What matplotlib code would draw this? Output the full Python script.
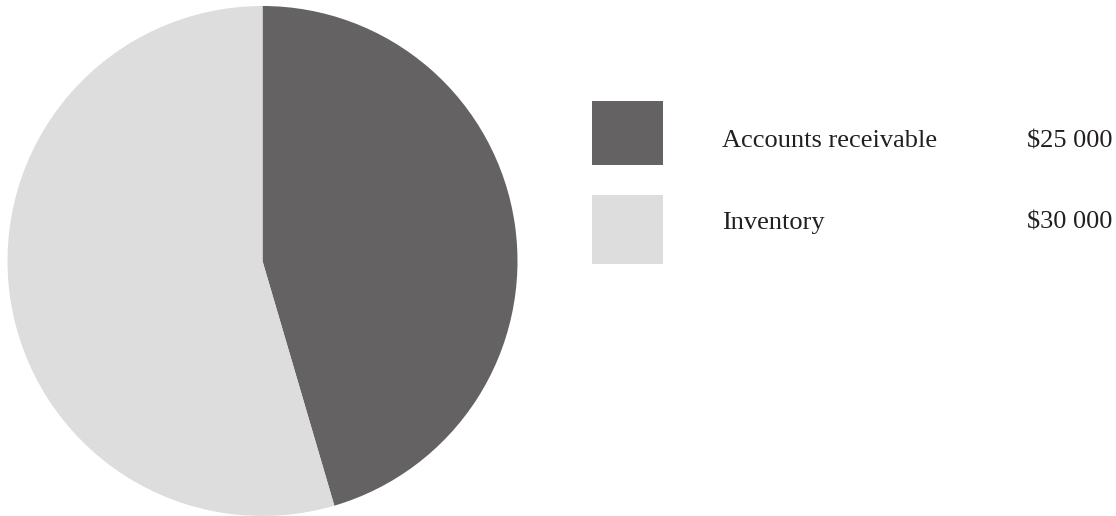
import matplotlib
matplotlib.use("Agg")
import matplotlib.pyplot as plt
from matplotlib.patches import Rectangle

categories = ["Accounts receivable", "Inventory"]
values = [25000, 30000]
value_labels = ["$25 000", "$30 000"]
colors = ["#656263", "#dddddd"]

W, H = 1116, 516
fig = plt.figure(figsize=(W / 100, H / 100), dpi=100)
fig.patch.set_facecolor("white")

# pie axes: center (263, 261) px from top-left, radius 255 px
cx, cy, r = 262.5, 261, 255
ax = fig.add_axes([(cx - r) / W, (H - cy - r) / H, 2 * r / W, 2 * r / H])
ax.pie(values, colors=colors, startangle=90, counterclock=False, radius=1,
       wedgeprops=dict(linewidth=0))
ax.set_xlim(-1, 1)
ax.set_ylim(-1, 1)
ax.set_axis_off()

font = "Liberation Serif"
boxes = [(101, 64), (195, 69)]
baselines = [147, 229]
for i, (cat, lab) in enumerate(zip(categories, value_labels)):
    y0, h = boxes[i]
    fig.patches.append(Rectangle((592 / W, 1 - (y0 + h) / H), 71 / W, h / H,
                                 transform=fig.transFigure, facecolor=colors[i],
                                 edgecolor="none"))
    fig.text(722 / W, 1 - baselines[i] / H, cat, fontsize=19, family=font,
             color="#231f20", va="baseline", ha="left")
    fig.text(1027 / W, 1 - baselines[i] / H, lab, fontsize=19, family=font,
             color="#231f20", va="baseline", ha="left")

fig.savefig("out.png", dpi=100, facecolor="white")
